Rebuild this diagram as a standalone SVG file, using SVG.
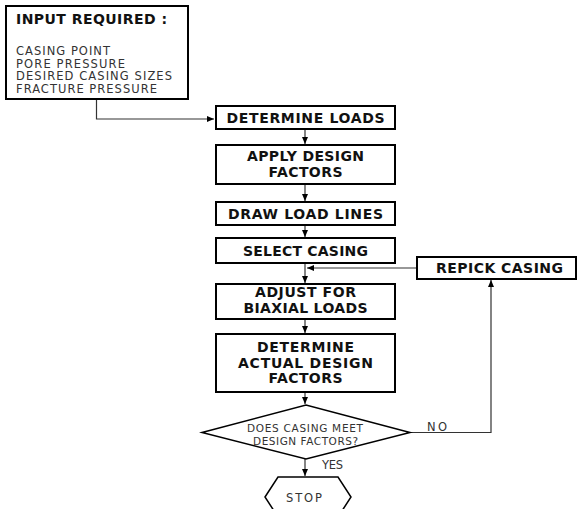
<svg xmlns="http://www.w3.org/2000/svg" width="578" height="509" viewBox="0 0 578 509">
<style>
.box{fill:#fff;stroke:#000;stroke-width:2}
.b{font-family:"DejaVu Sans","Liberation Sans",sans-serif;font-weight:bold;font-size:14px;fill:#111;text-anchor:middle}
.r{font-family:"DejaVu Sans","Liberation Sans",sans-serif;font-size:11.5px;fill:#333}
.s{font-family:"DejaVu Sans","Liberation Sans",sans-serif;font-size:10.5px;fill:#333;text-anchor:middle}
.c{fill:none;stroke:#333;stroke-width:1.2}
</style>
<defs>
<marker id="ah" markerUnits="userSpaceOnUse" markerWidth="8" markerHeight="7" refX="7" refY="3" orient="auto">
<path d="M0,0 L7,3 L0,6 z" fill="#000"/>
</marker>
</defs>
<rect width="578" height="509" fill="#fff"/>
<g id="connectors">
<path class="c" d="M96.5,99 V119 H214" marker-end="url(#ah)"/>
<path class="c" d="M305,129 V144" marker-end="url(#ah)"/>
<path class="c" d="M305,184 V201" marker-end="url(#ah)"/>
<path class="c" d="M305,225 V237" marker-end="url(#ah)"/>
<path class="c" d="M305,263 V283" marker-end="url(#ah)"/>
<path class="c" d="M417,268 H307" marker-end="url(#ah)"/>
<path class="c" d="M305,319 V333" marker-end="url(#ah)"/>
<path class="c" d="M305,392 V404" marker-end="url(#ah)"/>
<path class="c" d="M410,432.5 H491 V280" marker-end="url(#ah)"/>
<path class="c" d="M305,459 V476" marker-end="url(#ah)"/>
<text class="r" x="427" y="431" font-size="12" textLength="20">NO</text>
<text class="r" x="322" y="469" font-size="12" textLength="21">YES</text>
</g>
<g id="input">
<rect class="box" x="6" y="6" width="182" height="93"/>
<text class="b" x="16" y="23.5" style="text-anchor:start" textLength="151">INPUT REQUIRED :</text>
<text class="r" x="16" y="55" textLength="94">CASING POINT</text>
<text class="r" x="16" y="67.5" textLength="109">PORE PRESSURE</text>
<text class="r" x="16" y="80" textLength="156">DESIRED CASING SIZES</text>
<text class="r" x="16" y="92.5" textLength="141">FRACTURE PRESSURE</text>
</g>
<g id="determine-loads">
<rect class="box" x="216" y="106" width="179" height="23"/>
<text class="b" x="305.5" y="123" textLength="158">DETERMINE LOADS</text>
</g>
<g id="apply-design-factors">
<rect class="box" x="216" y="145" width="179" height="39"/>
<text class="b" x="305.5" y="161" textLength="117">APPLY DESIGN</text>
<text class="b" x="305.5" y="177" textLength="74">FACTORS</text>
</g>
<g id="draw-load-lines">
<rect class="box" x="216" y="202" width="179" height="23"/>
<text class="b" x="305.5" y="218.5" textLength="155">DRAW LOAD LINES</text>
</g>
<g id="select-casing">
<rect class="box" x="216" y="238" width="179" height="25"/>
<text class="b" x="305.5" y="256" textLength="125">SELECT CASING</text>
</g>
<g id="repick-casing">
<rect class="box" x="417" y="257" width="159" height="22"/>
<text class="b" x="499.5" y="273" textLength="127">REPICK CASING</text>
</g>
<g id="adjust-biaxial">
<rect class="box" x="216" y="284" width="179" height="35"/>
<text class="b" x="305.5" y="297" textLength="101">ADJUST FOR</text>
<text class="b" x="305.5" y="313" textLength="124">BIAXIAL LOADS</text>
</g>
<g id="determine-actual">
<rect class="box" x="216" y="334" width="179" height="58"/>
<text class="b" x="305.5" y="352" textLength="97">DETERMINE</text>
<text class="b" x="305.5" y="367.5" textLength="135">ACTUAL DESIGN</text>
<text class="b" x="305.5" y="383" textLength="74">FACTORS</text>
</g>
<g id="decision">
<polygon points="202,432.5 306,405 410,432.5 306,459" fill="#fff" stroke="#000" stroke-width="1.5"/>
<text class="s" x="305" y="432" textLength="116">DOES CASING MEET</text>
<text class="s" x="305.5" y="444.5" textLength="105">DESIGN FACTORS?</text>
</g>
<g id="stop">
<polygon points="265,497 278,477 338,477 351,497 338,517 278,517" fill="#fff" stroke="#000" stroke-width="1.5"/>
<text class="r" x="304" y="501.5" font-size="15" text-anchor="middle" textLength="36">STOP</text>
</g>
</svg>
